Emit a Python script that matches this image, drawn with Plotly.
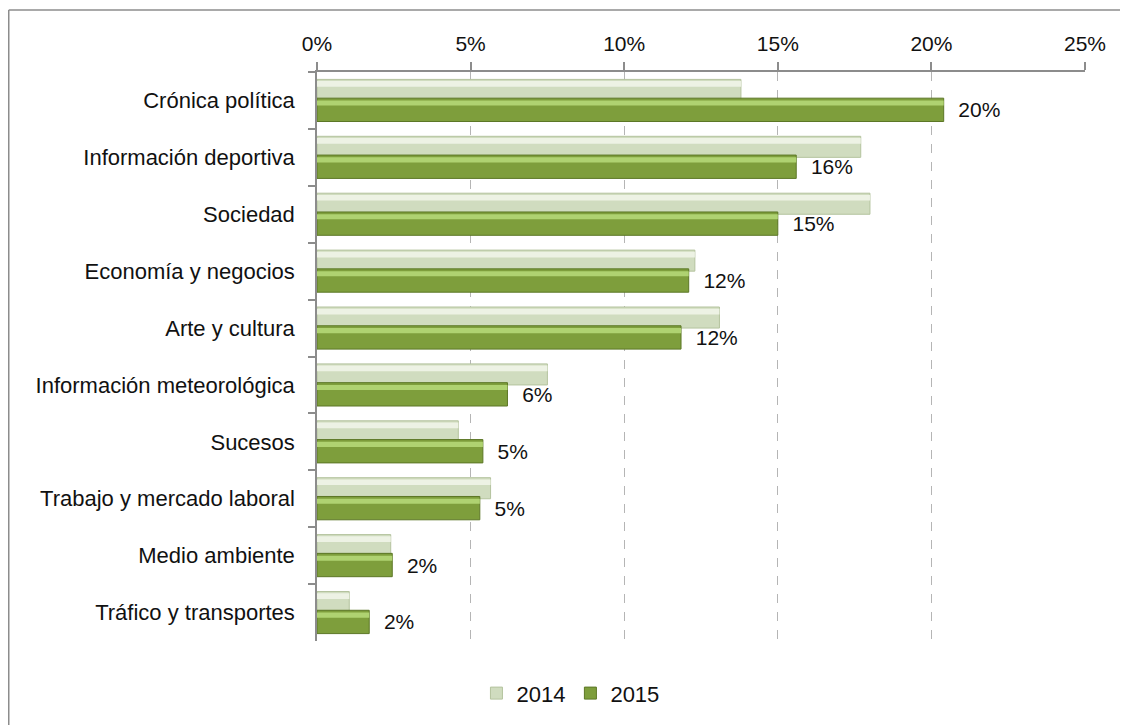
import plotly.graph_objects as go

categories = [
    "Crónica política",
    "Información deportiva",
    "Sociedad",
    "Economía y negocios",
    "Arte y cultura",
    "Información meteorológica",
    "Sucesos",
    "Trabajo y mercado laboral",
    "Medio ambiente",
    "Tráfico y transportes",
]
values_2014 = [13.8, 17.7, 18.0, 12.3, 13.1, 7.5, 4.6, 5.65, 2.4, 1.05]
values_2015 = [20.4, 15.6, 15.0, 12.1, 11.85, 6.2, 5.4, 5.3, 2.45, 1.7]
series_names = ["2014", "2015"]
x_ticks = [0, 5, 10, 15, 20, 25]

FONT = "Liberation Sans, Arial, sans-serif"
TXT = "#111111"

# the page adds an 8px body margin, so the figure is laid out 8px in
W, H = 1120, 717
L, T = 309, 64
PW, PH = 768, 570

fig = go.Figure()

# 2014 bars (upper bar of each pair)
fig.add_trace(go.Bar(
    y=categories, x=values_2014, orientation="h", name=series_names[0],
    offset=-0.37, width=0.37,
    marker=dict(color="#d0dcbf", line=dict(color="#b4c39e", width=1)),
    hoverinfo="x+y",
))
# highlight strip 2014
fig.add_trace(go.Bar(
    y=categories, x=values_2014, orientation="h", showlegend=False,
    offset=-0.34, width=0.1,
    marker=dict(color="#edf2e4", line=dict(width=0)),
    hoverinfo="skip",
))
# 2015 bars (lower bar of each pair)
fig.add_trace(go.Bar(
    y=categories, x=values_2015, orientation="h", name=series_names[1],
    offset=-0.04, width=0.41,
    marker=dict(color="#7e9e3c", line=dict(color="#5c7726", width=1)),
    texttemplate="\u00a0\u00a0%{x:.0f}%", textposition="outside",
    textfont=dict(family=FONT, size=21, color=TXT),
    cliponaxis=False,
    hoverinfo="x+y",
))
# highlight strip 2015
fig.add_trace(go.Bar(
    y=categories, x=values_2015, orientation="h", showlegend=False,
    offset=0.0, width=0.09,
    marker=dict(color="#afd271", line=dict(width=0)),
    hoverinfo="skip",
))

frame = dict(color="#8c8c8c", width=1.5)
fig.update_layout(
    width=W, height=H,
    margin=dict(l=L, r=W - L - PW, t=T, b=H - T - PH),
    barmode="overlay",
    plot_bgcolor="white", paper_bgcolor="white",
    font=dict(family=FONT, size=21, color=TXT),
    uniformtext=dict(minsize=10, mode="show"),
    legend=dict(
        orientation="h", x=0.33, xanchor="center", y=-0.09, yanchor="middle",
        font=dict(family=FONT, size=22, color=TXT),
        itemwidth=30, traceorder="normal",
    ),
    xaxis=dict(
        side="top", range=[0, 25], tickvals=x_ticks,
        ticktext=[f"{v}%" for v in x_ticks],
        showgrid=True, gridcolor="#b5b5b5", griddash="dash", gridwidth=1,
        showline=True, linecolor="#8c8c8c", linewidth=1.5,
        ticks="outside", ticklen=8, tickcolor="#8c8c8c", tickwidth=1.5,
        zeroline=False, fixedrange=True,
        tickfont=dict(family=FONT, size=21, color=TXT),
        ticklabelstandoff=3,
    ),
    yaxis=dict(
        type="category", categoryorder="array", categoryarray=categories,
        autorange="reversed",
        showline=True, linecolor="#8c8c8c", linewidth=1.5,
        ticks="outside", ticklen=7, tickcolor="#8c8c8c", tickwidth=1.5,
        tickson="boundaries", showgrid=False,
        tickfont=dict(family=FONT, size=22, color=TXT),
        ticklabelstandoff=16,
    ),
    shapes=[
        # chart frame: top and left edges (right/bottom fall outside the view)
        dict(type="line", xref="paper", yref="paper",
             x0=(0.75 - L) / PW, x1=(W + 20 - L) / PW,
             y0=(T + PH - 2) / PH, y1=(T + PH - 2) / PH, line=frame),
        dict(type="line", xref="paper", yref="paper",
             x0=(0.75 - L) / PW, x1=(0.75 - L) / PW,
             y0=(T + PH - 2) / PH, y1=(T + PH - (H + 20)) / PH, line=frame),
    ],
)

fig.write_html("out.html", config={"displayModeBar": False})
